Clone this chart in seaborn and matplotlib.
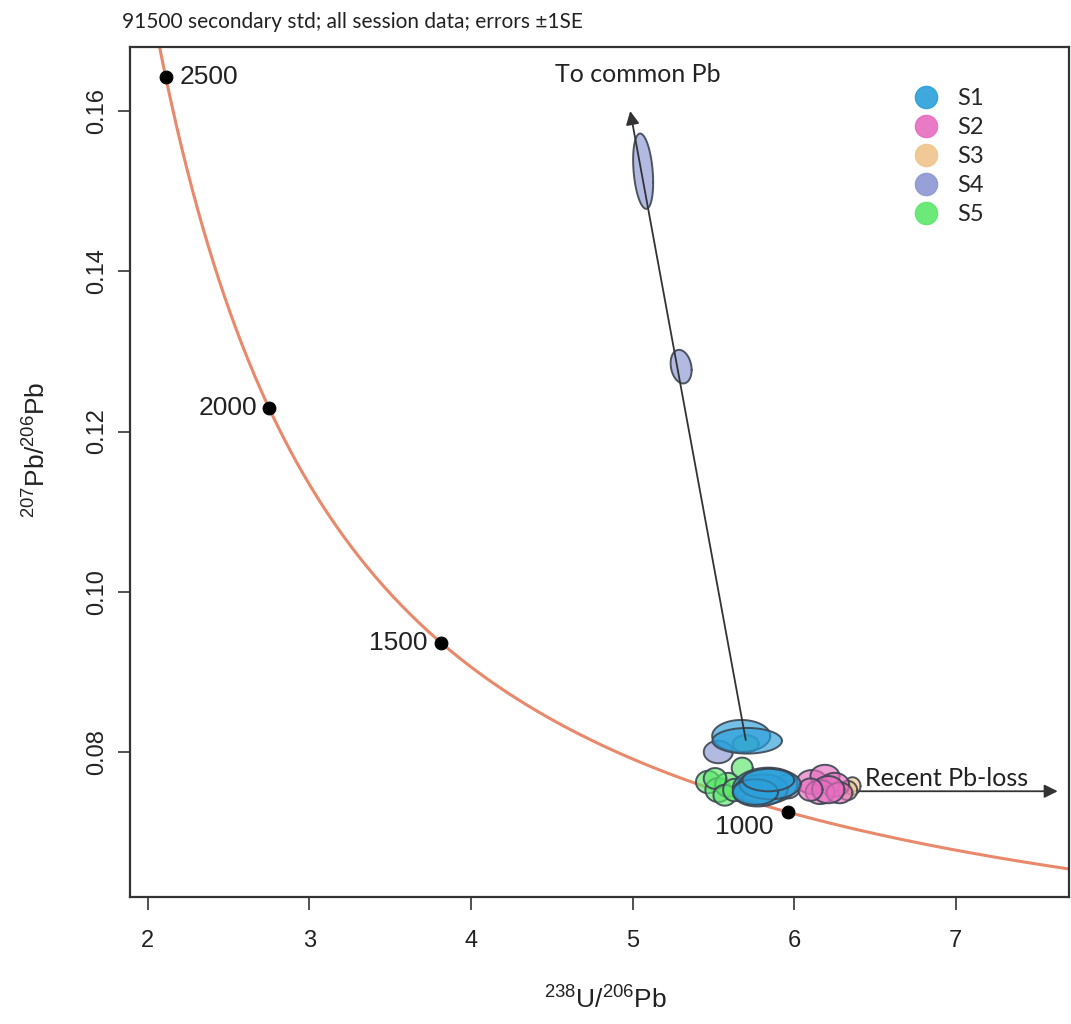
import numpy as np
import pandas as pd
import matplotlib
matplotlib.use("Agg")
import matplotlib.pyplot as plt
import seaborn as sns
from matplotlib.lines import Line2D

# ---- sessions and colours ----
sessions = ["S1", "S2", "S3", "S4", "S5"]
session_colors = ["#2A9FDA", "#E76DC0", "#F0C48C", "#8C97D3", "#5BE86B"]

# ---- 91500 analyses: centre, 1SE and error correlation ----
ell_session = ["S3", "S3",
               "S4", "S4", "S4", "S4",
               "S5", "S5", "S5", "S5", "S5", "S5", "S5", "S5",
               "S2", "S2", "S2", "S2", "S2", "S2", "S2",
               "S1", "S1", "S1", "S1", "S1", "S1", "S1"]
ell_x = [6.36, 6.33,
         5.065, 5.30, 5.53, 5.96,
         5.70, 5.467, 5.53, 5.59, 5.51, 5.57, 5.63, 5.678,
         6.11, 6.19, 6.25, 6.16, 6.28, 6.21, 6.10,
         5.672, 5.709, 5.82, 5.79, 5.85, 5.76, 5.84]
ell_y = [0.07575, 0.0752,
         0.1525, 0.1281, 0.0800, 0.0757,
         0.0810, 0.07625, 0.07525, 0.0759, 0.0767, 0.0746, 0.07525, 0.0780,
         0.07625, 0.0770, 0.0759, 0.0750, 0.0749, 0.0753, 0.0753,
         0.0820, 0.0814, 0.07575, 0.0752, 0.0760, 0.0750, 0.0765]
ell_sx = [0.05, 0.06,
          0.062, 0.065, 0.09, 0.08,
          0.08, 0.075, 0.08, 0.08, 0.07, 0.07, 0.07, 0.065,
          0.095, 0.09, 0.09, 0.09, 0.08, 0.10, 0.075,
          0.18, 0.215, 0.20, 0.17, 0.19, 0.14, 0.16]
ell_sy = [0.0011, 0.0012,
          0.0047, 0.0021, 0.0014, 0.0015,
          0.0011, 0.0014, 0.0015, 0.0015, 0.0013, 0.0013, 0.0014, 0.0013,
          0.0015, 0.0014, 0.0015, 0.0015, 0.0013, 0.0017, 0.0014,
          0.0020, 0.0016, 0.0023, 0.0020, 0.0019, 0.0016, 0.0014]
ell_rho = [0.0, 0.0,
           -0.3, -0.2, 0.0, 0.0,
           0.0, 0.0, 0.0, 0.0, 0.0, 0.0, 0.0, 0.0,
           0.0, 0.0, 0.0, 0.0, 0.0, 0.0, 0.0,
           0.0, 0.0, 0.1, 0.1, 0.0, 0.0, 0.0]

# ---- concordia age markers (Ma) ----
age_marks = [1000, 1500, 2000, 2500]
age_label_offsets = [(-31, -11), (-10, 0), (-8, 0), (10, 0)]
age_label_ha = ["center", "right", "right", "left"]

# ---- decay constants (1/yr) and present-day 238U/235U ----
lam238 = 1.55125e-10
lam235 = 9.8485e-10
u_ratio = 137.88


def tera_wasserburg(t_ma):
    t = np.asarray(t_ma, dtype=float) * 1e6
    e8 = np.exp(lam238 * t) - 1.0
    e5 = np.exp(lam235 * t) - 1.0
    return 1.0 / e8, e5 / (e8 * u_ratio)


x_ticks = [2, 3, 4, 5, 6, 7]
y_ticks = [0.08, 0.10, 0.12, 0.14, 0.16]
y_tick_labels = ["0.08", "0.10", "0.12", "0.14", "0.16"]

sns.set_theme(style="white")
plt.rcParams["font.family"] = ["Liberation Sans", "DejaVu Sans"]
plt.rcParams["mathtext.fontset"] = "custom"
plt.rcParams["mathtext.rm"] = "Liberation Sans"
plt.rcParams["mathtext.it"] = "Liberation Sans:italic"

fig = plt.figure(figsize=(10.71, 10.24), dpi=100)
ax = fig.add_axes([130 / 1071, 1 - 897 / 1024, 939 / 1071, 850 / 1024])
ax.set_xlim(1.89, 7.70)
ax.set_ylim(0.0619, 0.168)

# concordia curve
t_curve = np.linspace(600, 3200, 600)
cx, cy = tera_wasserburg(t_curve)
curve = pd.DataFrame({"x": cx, "y": cy})
sns.lineplot(data=curve, x="x", y="y", sort=False, color="#E9896B", lw=2.2, ax=ax)

# error ellipses
col_of = dict(zip(sessions, session_colors))
theta = np.linspace(0, 2 * np.pi, 120)
for s, x0, y0, sx, sy, r in zip(ell_session, ell_x, ell_y, ell_sx, ell_sy, ell_rho):
    ex = x0 + sx * np.cos(theta)
    ey = y0 + sy * (r * np.cos(theta) + np.sqrt(1 - r * r) * np.sin(theta))
    ax.fill(ex, ey, facecolor=col_of[s], alpha=0.66, zorder=3)
    ax.plot(ex, ey, color="#15202e", lw=1.4, alpha=0.75, zorder=3)

# age markers on concordia
ax_m, ay_m = tera_wasserburg(age_marks)
marks = pd.DataFrame({"x": ax_m, "y": ay_m})
sns.scatterplot(data=marks, x="x", y="y", color="black", s=85, edgecolor="black",
                zorder=5, ax=ax, legend=False)
for a, x0, y0, off, ha in zip(age_marks, ax_m, ay_m, age_label_offsets, age_label_ha):
    ax.annotate(str(a), (x0, y0), xytext=off, textcoords="offset points",
                ha=ha, va="center", fontsize=19, color="#222222", zorder=6)

# trend arrows
arrow_kw = dict(arrowstyle="-|>", color="#333333", lw=1.3, mutation_scale=20,
                shrinkA=0, shrinkB=0)
ax.annotate("", xy=(4.985, 0.1600), xytext=(5.70, 0.0815), arrowprops=arrow_kw, zorder=4)
ax.annotate("", xy=(7.63, 0.0751), xytext=(6.33, 0.0751), arrowprops=arrow_kw, zorder=2)
ax.text(5.03, 0.1646, "To common Pb", ha="center", va="center", fontsize=18,
        family=["Lato", "DejaVu Sans"], color="#222222")
ax.text(6.44, 0.0767, "Recent Pb-loss", ha="left", va="center", fontsize=18,
        family=["Lato", "DejaVu Sans"], color="#222222")

# legend
handles = [Line2D([0], [0], marker="o", linestyle="", markersize=16,
                  markerfacecolor=c, markeredgecolor=c, alpha=0.9) for c in session_colors]
leg = ax.legend(handles, sessions, loc="upper left", bbox_to_anchor=(0.80, 0.977),
                frameon=False, labelspacing=0.34, handletextpad=0.3,
                prop={"family": ["Lato", "DejaVu Sans"], "size": 17})

# axes styling
ax.set_xticks(x_ticks)
ax.set_xticklabels([str(v) for v in x_ticks], fontsize=17)
ax.set_yticks(y_ticks)
ax.set_yticklabels(y_tick_labels, fontsize=17, rotation=90, va="center")
ax.tick_params(axis="x", direction="out", length=9, width=1.2, pad=15,
               bottom=True, colors="#333333", labelcolor="#222222")
ax.tick_params(axis="y", direction="out", length=9, width=1.2, pad=7,
               left=True, colors="#333333", labelcolor="#222222")
for sp in ax.spines.values():
    sp.set_color("#333333")
    sp.set_linewidth(1.6)
    sp.set_visible(True)

ax.set_xlabel(r"$^{238}$U/$^{206}$Pb", fontsize=19, color="#222222")
ax.set_ylabel(r"$^{207}$Pb/$^{206}$Pb", fontsize=19, color="#222222")
ax.xaxis.set_label_coords(0.506, -0.105)
ax.yaxis.set_label_coords(-0.085, 0.526)

fig.text(122 / 1071, 1 - 22 / 1024, "91500 secondary std; all session data; errors \u00b11SE",
         ha="left", va="center", fontsize=15, family=["Lato", "DejaVu Sans"], color="#222222")

fig.savefig("out.png", dpi=100)
